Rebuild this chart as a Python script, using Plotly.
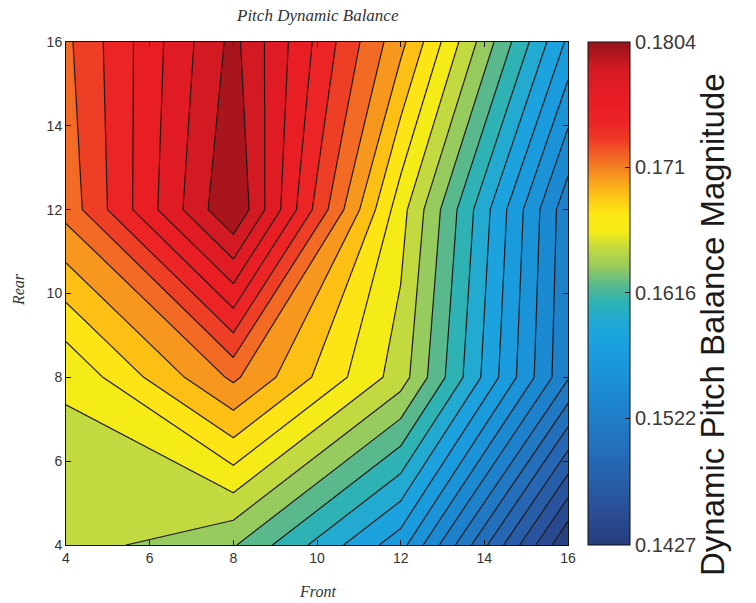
import plotly.graph_objects as go

# ---------------- data ----------------
FRONT = [4, 8, 12, 16]          # x grid
REAR = [4, 8, 12, 16]           # y grid
# Dynamic pitch balance magnitude, one row per REAR value (bottom to top)
Z_REAR4 = [0.16492, 0.16303, 0.15670, 0.14270]
Z_REAR8 = [0.16572, 0.17124, 0.16492, 0.15226]
Z_REAR12 = [0.17145, 0.18040, 0.16613, 0.15253]
Z_REAR16 = [0.17201, 0.17946, 0.17003, 0.15724]

CBAR_TICKVALS = [0.1427, 0.1522, 0.1616, 0.1710, 0.1804]
CBAR_TICKTEXT = ["0.1427", "0.1522", "0.1616", "0.171", "0.1804"]
X_TICKS = [4, 6, 8, 10, 12, 14, 16]
Y_TICKS = [4, 6, 8, 10, 12, 14, 16]

TITLE = "Pitch Dynamic Balance"
X_TITLE = "Front"
Y_TITLE = "Rear"
CBAR_TITLE = "Dynamic Pitch Balance Magnitude"

# ---------------- style ----------------
VMIN, VMAX = 0.1427, 0.1804
N_BANDS = 28
STEP = (VMAX - VMIN) / N_BANDS

# colour anchors as (band position 0..N_BANDS, colour)
ANCHORS = [
    (0.0, "#263c7c"), (2.0, "#2a4f98"), (4.0, "#2762ad"), (6.0, "#2274c0"),
    (8.0, "#1d86d0"), (10.0, "#1a97dc"), (11.5, "#1ba3e0"), (12.5, "#22aad2"),
    (13.5, "#2db2b4"), (14.5, "#5ab98c"), (15.5, "#98cb5c"), (16.5, "#c2da40"),
    (17.5, "#f6ec14"), (18.5, "#fde614"), (19.5, "#fcc015"), (20.5, "#f7971e"),
    (21.5, "#f26a24"), (22.5, "#ee3d25"), (23.5, "#ec2326"), (25.0, "#e81c25"),
    (26.5, "#d41a23"), (27.5, "#a8151c"), (28.0, "#9a141a"),
]


def hex2rgb(h):
    h = h.lstrip("#")
    return tuple(int(h[i:i + 2], 16) for i in (0, 2, 4))


def color_at(p):
    if p <= ANCHORS[0][0]:
        return hex2rgb(ANCHORS[0][1])
    for (p0, c0), (p1, c1) in zip(ANCHORS[:-1], ANCHORS[1:]):
        if p0 <= p <= p1:
            t = (p - p0) / (p1 - p0)
            a, b = hex2rgb(c0), hex2rgb(c1)
            return tuple(round(a[i] + (b[i] - a[i]) * t) for i in range(3))
    return hex2rgb(ANCHORS[-1][1])


def rgb_str(c):
    return "rgb(%d,%d,%d)" % c


NS = 112
# contour fill colours: plotly maps scale 0..1 to [start - step/2, end + step/2]
contour_scale = []
for i in range(NS + 1):
    f = i / NS
    p = 0.5 + f * (N_BANDS - 1)
    contour_scale.append([f, rgb_str(color_at(p))])
# continuous colour bar
bar_scale = []
for i in range(NS + 1):
    f = i / NS
    bar_scale.append([f, rgb_str(color_at(f * N_BANDS))])

Z = [Z_REAR4, Z_REAR8, Z_REAR12, Z_REAR16]

fig = go.Figure()
fig.add_trace(go.Contour(
    x=FRONT, y=REAR, z=Z,
    autocontour=False,
    contours=dict(start=VMIN + STEP, end=VMIN + (N_BANDS - 1) * STEP + STEP * 1e-6,
                  size=STEP, coloring="fill"),
    colorscale=contour_scale,
    line=dict(color="#1e1a18", width=1.2, smoothing=0),
    showscale=False,
    hoverinfo="skip",
))

# invisible helper trace that carries the continuous colour bar
fig.add_trace(go.Scatter(
    x=[FRONT[0]], y=[REAR[0]], mode="markers",
    marker=dict(size=1, opacity=0, color=[VMIN], cmin=VMIN, cmax=VMAX,
                colorscale=bar_scale, showscale=True,
                colorbar=dict(
                    x=(588 - 66) / 502, xanchor="left", xpad=0,
                    y=0.5, yanchor="middle", len=1.0, lenmode="fraction", ypad=0,
                    thickness=42, thicknessmode="pixels",
                    outlinecolor="#111", outlinewidth=1,
                    tickvals=CBAR_TICKVALS, ticktext=CBAR_TICKTEXT,
                    ticks="inside", ticklen=5, tickcolor="#111",
                    tickfont=dict(family="Arial, Liberation Sans", size=20, color="#3a3a3a"),
                )),
    showlegend=False, hoverinfo="skip",
))

axis_common = dict(
    range=[4, 16], showgrid=False, zeroline=False,
    showline=True, linecolor="#111", linewidth=1, mirror="ticks",
    ticks="inside", ticklen=5, tickcolor="#111",
    tickfont=dict(family="Arial, Liberation Sans", size=14, color="#333"),
)
fig.update_xaxes(tickvals=X_TICKS, **axis_common)
fig.update_yaxes(tickvals=Y_TICKS, **axis_common)

serif = dict(family="Times New Roman, Liberation Serif", size=17, color="#333")
fig.update_layout(
    width=756, height=603,
    margin=dict(l=66, r=188, t=42, b=58, pad=0),
    paper_bgcolor="white", plot_bgcolor="white",
    annotations=[
        dict(text="<i>%s</i>" % TITLE, xref="paper", yref="paper",
             x=0.5, y=(545 - 15) / 503, xanchor="center", yanchor="middle",
             showarrow=False, font=serif),
        dict(text="<i>%s</i>" % X_TITLE, xref="paper", yref="paper",
             x=0.5, y=(545 - 591) / 503, xanchor="center", yanchor="middle",
             showarrow=False, font=dict(serif, size=16)),
        dict(text="<i>%s</i>" % Y_TITLE, xref="paper", yref="paper",
             x=(18 - 66) / 502, y=(545 - 290) / 503, xanchor="center", yanchor="middle",
             textangle=-90, showarrow=False, font=dict(serif, size=16)),
        dict(text=CBAR_TITLE, xref="paper", yref="paper",
             x=(712 - 66) / 502, y=(545 - 325) / 503, xanchor="center", yanchor="middle",
             textangle=-90, showarrow=False,
             font=dict(family="Arial, Liberation Sans", size=33, color="#1a1a1a")),
    ],
)

fig.write_html("out.html")
